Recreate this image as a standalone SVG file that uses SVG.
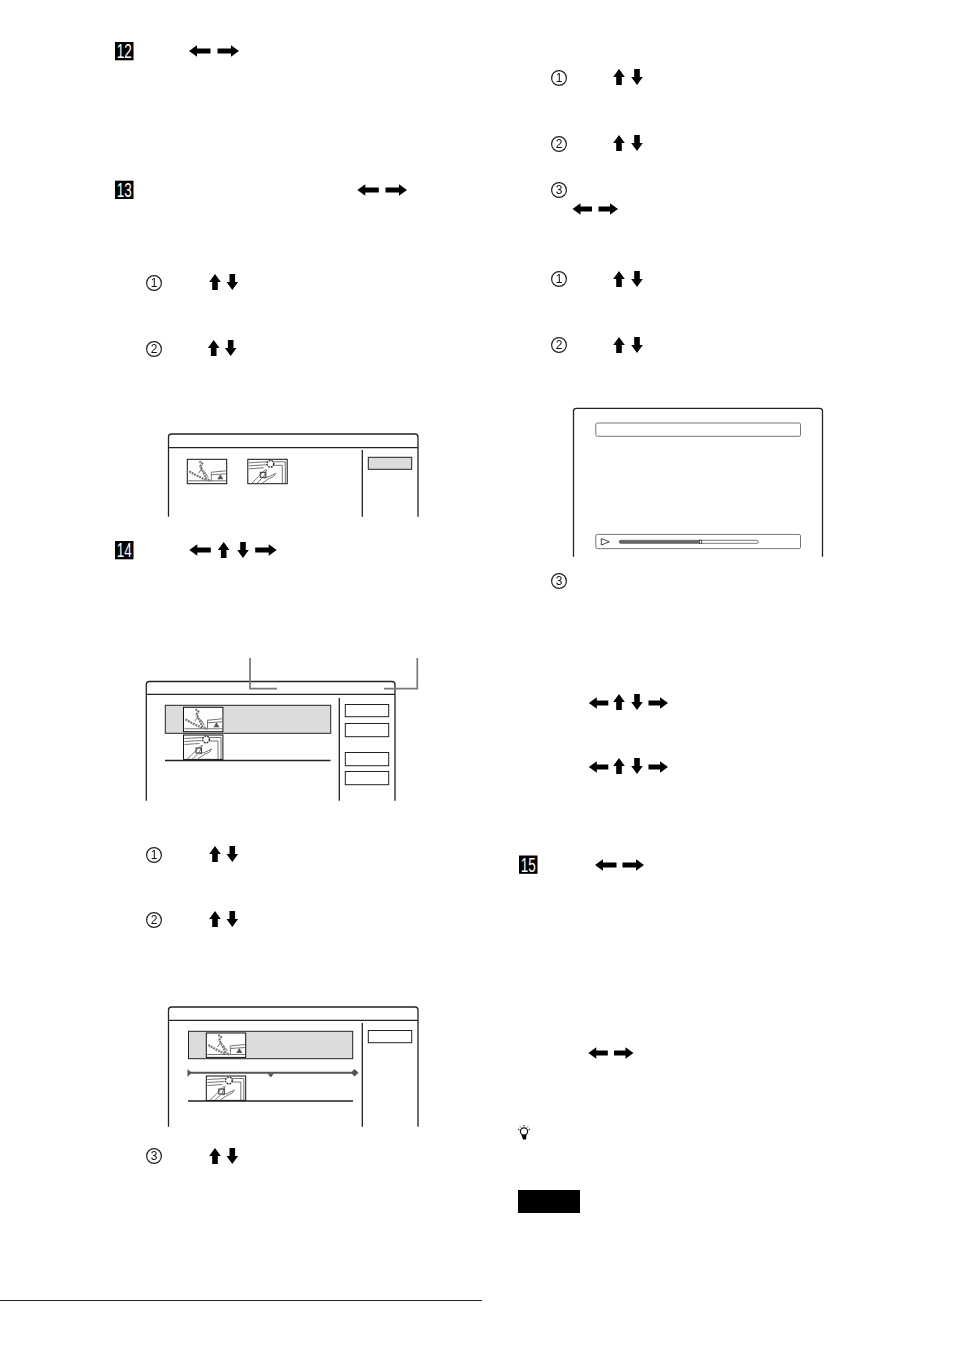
<svg xmlns="http://www.w3.org/2000/svg" xmlns:xlink="http://www.w3.org/1999/xlink" width="954" height="1351" viewBox="0 0 954 1351">
<style>
.f{fill:none;stroke:#222;stroke-width:1.3}
.b{fill:#fff;stroke:#222;stroke-width:1}
.h{fill:#dcdcdc;stroke:#222;stroke-width:1}
.s{fill:none;stroke:#666;stroke-width:.9}
.t{fill:none;stroke:#777;stroke-width:2.2;stroke-dasharray:2 .8;stroke-linejoin:round}
.c{fill:none;stroke:#777;stroke-width:1.7}
.bt{font-family:"Liberation Sans",Arial,sans-serif;font-size:20px;fill:#fff;text-anchor:middle}
.n{font-family:"Liberation Sans",Arial,sans-serif;font-size:12px;fill:#111;text-anchor:middle}
.gray{opacity:.999}
</style>
<defs>
<path id="L" d="M0,0 L8,-5.8 L8,-2.6 L21.5,-2.6 L21.5,2.6 L8,2.6 L8,5.8Z" fill="#000"/>
<path id="R" d="M0,0 L-8,-5.8 L-8,-2.6 L-21.5,-2.6 L-21.5,2.6 L-8,2.6 L-8,5.8Z" fill="#000"/>
<path id="L2" d="M0,0 L8,-5.8 L8,-2.6 L19.5,-2.6 L19.5,2.6 L8,2.6 L8,5.8Z" fill="#000"/>
<path id="R2" d="M0,0 L-8,-5.8 L-8,-2.6 L-19.5,-2.6 L-19.5,2.6 L-8,2.6 L-8,5.8Z" fill="#000"/>
<path id="U" d="M0,-8 L5.8,0 L2.8,0 L2.8,8 L-2.8,8 L-2.8,0 L-5.8,0Z" fill="#000"/>
<path id="D" d="M0,8 L5.8,0 L2.8,0 L2.8,-8 L-2.8,-8 L-2.8,0 L-5.8,0Z" fill="#000"/>
<circle id="C" r="7.4" fill="none" stroke="#222" stroke-width="1.2"/>
<g id="TA">
<rect x="0" y="0" width="39.4" height="24.4" fill="#fff" stroke="#111" stroke-width="1"/>
<path class="s" d="M1,21.5 H39 M24,13.5 V22 M23.5,13 L38.5,11.5 M24,15.5 L38.5,14.5"/>
<path class="t" d="M12,2 L15,4 L13,7 L15,11 L17,15 L19,19 L23,22"/>
<path class="t" d="M2,12 L7,15 L11,17 L15,19 L19,21"/>
<path class="s" d="M11,14 L15,9 M17,12 L21,18"/>
<path d="M33,15 L36,20 L30,20Z" fill="#555"/>
</g>
<g id="TB">
<rect x="0" y="0" width="39.4" height="24.4" fill="#fff" stroke="#111" stroke-width="1"/>
<path class="s" d="M1,3.5 L19,2.5 M1,6.5 L18,5.5 M1,9.5 L16,8.5 M25,2.5 H37.5 V24 M34.5,6 V24 M25,6 H34.5"/>
<circle cx="22.5" cy="4.5" r="3.4" fill="#fff" stroke="#333" stroke-width="1.5" stroke-dasharray="1.8 1"/>
<path class="s" d="M18,10 L11,17 L4,24 M19,10 L16,17 L9,24 M16,19 L22,17 L28,14 L26,17 L20,20 L14,24"/>
<rect x="12.5" y="13" width="5.5" height="5" fill="none" stroke="#333" stroke-width="1"/>
</g>
</defs>

<g id="badges" class="gray">
<g id="badge-12"><rect x="115" y="42" width="18.5" height="18.3" fill="#000"/><text class="bt" x="124.2" y="58.2" textLength="15" lengthAdjust="spacingAndGlyphs">12</text></g>
<g id="badge-13"><rect x="115" y="180.7" width="18.5" height="18.3" fill="#000"/><text class="bt" x="124.2" y="196.9" textLength="15" lengthAdjust="spacingAndGlyphs">13</text></g>
<g id="badge-14"><rect x="115" y="541" width="18.5" height="18.3" fill="#000"/><text class="bt" x="124.2" y="557.2" textLength="15" lengthAdjust="spacingAndGlyphs">14</text></g>
<g id="badge-15"><rect x="519" y="855.5" width="18.5" height="18.3" fill="#000"/><text class="bt" x="528.2" y="871.7" textLength="15" lengthAdjust="spacingAndGlyphs">15</text></g>
</g>

<g id="markers" class="gray">
<use href="#C" x="154" y="283"/><text class="n" x="154" y="287.3">1</text>
<use href="#C" x="154" y="349"/><text class="n" x="154" y="353.3">2</text>
<use href="#C" x="154" y="855"/><text class="n" x="154" y="859.3">1</text>
<use href="#C" x="154" y="920"/><text class="n" x="154" y="924.3">2</text>
<use href="#C" x="154" y="1156"/><text class="n" x="154" y="1160.3">3</text>
<use href="#C" x="559" y="78"/><text class="n" x="559" y="82.3">1</text>
<use href="#C" x="559" y="144"/><text class="n" x="559" y="148.3">2</text>
<use href="#C" x="559" y="190"/><text class="n" x="559" y="194.3">3</text>
<use href="#C" x="559" y="279"/><text class="n" x="559" y="283.3">1</text>
<use href="#C" x="559" y="345"/><text class="n" x="559" y="349.3">2</text>
<use href="#C" x="559" y="581"/><text class="n" x="559" y="585.3">3</text>
</g>

<g id="arrows">
<use href="#L" x="189" y="51"/><use href="#R" x="239" y="51"/>
<use href="#L" x="357.3" y="190"/><use href="#R" x="407" y="190"/>
<use href="#U" x="215" y="282"/><use href="#D" x="232.3" y="282"/>
<use href="#U" x="213.7" y="348"/><use href="#D" x="230.7" y="348"/>
<use href="#L" x="189.3" y="550"/><use href="#U" x="223.7" y="550"/><use href="#D" x="243" y="550"/><use href="#R" x="276.7" y="550"/>
<use href="#U" x="215" y="854"/><use href="#D" x="232.3" y="854"/>
<use href="#U" x="215" y="919"/><use href="#D" x="232.3" y="919"/>
<use href="#U" x="215" y="1156"/><use href="#D" x="232.3" y="1156"/>
<use href="#U" x="619" y="77"/><use href="#D" x="637" y="77"/>
<use href="#U" x="619" y="143"/><use href="#D" x="637" y="143"/>
<use href="#L2" x="572.5" y="209"/><use href="#R2" x="618" y="209"/>
<use href="#U" x="619" y="279"/><use href="#D" x="637" y="279"/>
<use href="#U" x="619" y="345"/><use href="#D" x="637" y="345"/>
<use href="#L2" x="588.8" y="703"/><use href="#U" x="619" y="702"/><use href="#D" x="637" y="702"/><use href="#R2" x="668" y="703"/>
<use href="#L2" x="588.8" y="767"/><use href="#U" x="619" y="766"/><use href="#D" x="637" y="766"/><use href="#R2" x="668" y="767"/>
<use href="#L" x="595" y="865"/><use href="#R" x="644" y="865"/>
<use href="#L2" x="588.3" y="1053"/><use href="#R2" x="633.5" y="1053"/>
</g>

<g id="screen-1">
<path class="f" d="M168.5,516.7 V437 Q168.5,434 171.5,434 H415 Q418,434 418,437 V516.7"/>
<path class="f" d="M168.5,447.7 H418 M362.3,450 V516.7"/>
<rect class="h" x="368.3" y="457.3" width="43.4" height="12"/>
<use href="#TA" x="187.3" y="459.3"/><use href="#TB" x="247.8" y="459.3"/>
</g>

<g id="screen-2">
<path class="f" d="M146.3,800.7 V684.5 Q146.3,681.5 149.3,681.5 H392 Q395,681.5 395,684.5 V800.7"/>
<path class="f" d="M146.3,694.3 H395 M339.3,698 V800.7"/>
<rect class="h" x="165.3" y="705.3" width="165.4" height="28"/>
<use href="#TA" x="183.5" y="707.3"/><use href="#TB" x="183.5" y="735"/>
<path class="f" d="M165,760.5 H330.5"/>
<rect class="b" x="345.3" y="704.5" width="43.4" height="12.2"/>
<rect class="b" x="345.3" y="723.5" width="43.4" height="13.2"/>
<rect class="b" x="345.3" y="752.5" width="43.4" height="13.2"/>
<rect class="b" x="345.3" y="771.5" width="43.4" height="13.2"/>
</g>

<g id="callouts">
<path class="c" d="M250,658 V688.7 H277"/>
<path class="c" d="M417.3,658 V688.7 H384"/>
</g>

<g id="screen-3">
<path class="f" d="M168.5,1126.7 V1010 Q168.5,1007 171.5,1007 H415 Q418,1007 418,1010 V1126.7"/>
<path class="f" d="M168.5,1020.3 H418 M362.3,1023 V1126.7"/>
<rect class="h" x="188.5" y="1031.3" width="164.2" height="27.4"/>
<use href="#TA" x="206.3" y="1033"/><use href="#TB" x="206.3" y="1076"/>
<path d="M188,1072.7 H355" stroke="#555" stroke-width="2" fill="none"/>
<path d="M187.5,1069 L191.5,1072.7 L187.5,1077Z M267.5,1073.5 H274 L270.8,1077.5Z M351,1072.7 L354.5,1069 L358.5,1072.7 L354.5,1076.5Z" fill="#555"/>
<path class="f" d="M188,1101 H353"/>
<rect class="b" x="368.3" y="1030.5" width="43.4" height="12.2"/>
</g>

<g id="screen-4">
<path class="f" d="M573.5,556.7 V411 Q573.5,408.3 576.5,408.3 H819.5 Q822.5,408.3 822.5,411 V556.7"/>
<rect x="595.8" y="423" width="204.7" height="13.3" rx="1.5" fill="none" stroke="#777" stroke-width="1"/>
<rect x="595.8" y="534.4" width="204.7" height="14.2" rx="1.5" fill="none" stroke="#777" stroke-width="1"/>
<path d="M601.3,538.5 L609.3,541.8 L601.3,545Z" fill="none" stroke="#333" stroke-width=".9"/>
<rect x="619.3" y="540.3" width="139" height="3" rx="1.5" fill="#fff" stroke="#555" stroke-width=".8"/>
<rect x="619.3" y="540.3" width="80" height="3" fill="#666"/>
<rect x="699.5" y="540.2" width="2.2" height="3.4" fill="#fff" stroke="#222" stroke-width=".7"/>
</g>

<g id="tip-icon">
<circle cx="524" cy="1131.5" r="3.6" fill="#fff" stroke="#111" stroke-width="1.2"/>
<path d="M521.5,1135 L526.5,1135 L526,1139.5 L523,1139.5Z" fill="#000"/>
<path d="M518,1129 L519.5,1130 M520,1126.5 L521,1127.5 M524,1125 V1126.5 M528,1126.5 L527,1127.5 M530,1129 L528.5,1130" stroke="#111" stroke-width="1" fill="none"/>
</g>

<rect id="note-bar" x="518" y="1190" width="62" height="23" fill="#000"/>
<path id="footer-rule" d="M0,1300.5 H482" stroke="#222" stroke-width="1" fill="none"/>
</svg>
